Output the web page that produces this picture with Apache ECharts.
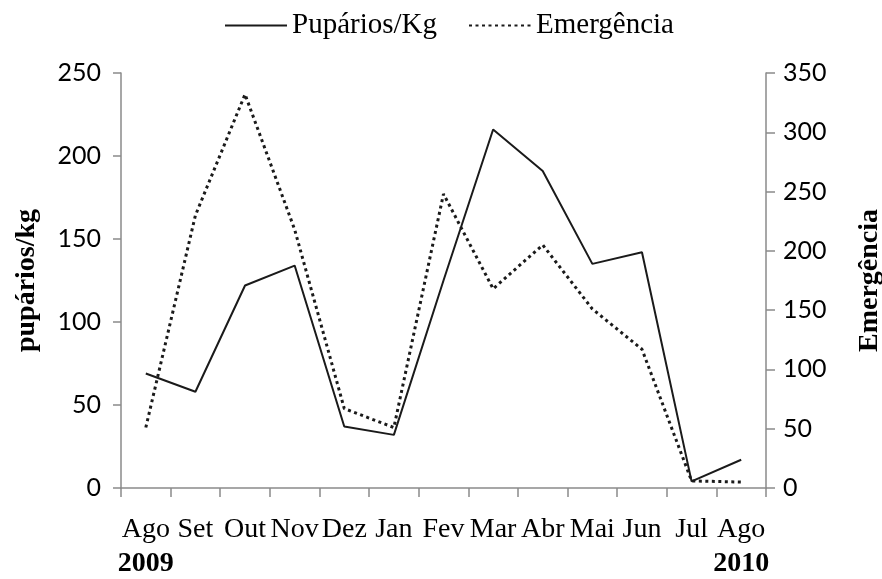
<!DOCTYPE html>
<html>
<head>
<meta charset="utf-8">
<script src="https://cdn.jsdelivr.net/npm/echarts@6/dist/echarts.min.js"></script>
<style>html,body{margin:0;padding:0;background:#fff}#c{width:882px;height:579px}</style>
</head>
<body>
<div id="c"></div>
<script>
var categories = ['Ago','Set','Out','Nov','Dez','Jan','Fev','Mar','Abr','Mai','Jun','Jul','Ago'];
var years = {0:'2009', 12:'2010'};
var puparios = [69, 58, 122, 134, 37, 32, 125, 216, 191, 135, 142, 4, 17];
var emergencia = [51, 230, 332, 218, 67, 51, 248, 168, 205, 151, 117, 6, 5];
var leftTicks = {min:0, max:250, interval:50};
var rightTicks = {min:0, max:350, interval:50};

var SERIF = '"Liberation Serif", "Times New Roman", serif';
var SANS = 'Lato, "Liberation Sans", sans-serif';
var FS = 28;
var axisGray = '#8a8a8a';

var chart = echarts.init(document.getElementById('c'), null, {renderer:'canvas'});
chart.setOption({
  animation:false,
  backgroundColor:'#fff',
  textStyle:{fontFamily:SERIF, color:'#000'},
  legend:{
    top:6, left:219, itemWidth:62, itemHeight:14, itemGap:31,
    itemStyle:{opacity:0},
    textStyle:{fontFamily:SERIF, fontSize:29, color:'#000'},
    data:['Pupários/Kg','Emergência']
  },
  grid:{left:121, right:116, top:73, bottom:91, outerBoundsMode:'none', containLabel:false},
  xAxis:{
    type:'category', data:categories, boundaryGap:true,
    axisLine:{lineStyle:{color:axisGray, width:1.5}},
    axisTick:{show:true, alignWithLabel:false, length:9, lineStyle:{color:axisGray, width:1.5}},
    axisLabel:{
      interval:0, margin:25, fontFamily:SERIF, fontSize:FS, color:'#000', lineHeight:34,
      formatter:function(v, i){ return years[i] ? v + '\n{y|' + years[i] + '}' : v; },
      rich:{y:{fontFamily:SERIF, fontSize:FS, fontWeight:'bold', color:'#000', lineHeight:34}}
    }
  },
  yAxis:[{
    type:'value', min:leftTicks.min, max:leftTicks.max, interval:leftTicks.interval, position:'left',
    name:'pupários/kg', nameLocation:'middle', nameGap:80, nameRotate:90,
    nameTextStyle:{fontFamily:SERIF, fontSize:28, fontWeight:'bold', color:'#000'},
    axisLine:{show:true, lineStyle:{color:axisGray, width:1.5}},
    axisTick:{show:true, length:8, lineStyle:{color:axisGray, width:1.5}},
    axisLabel:{margin:20, fontFamily:SANS, fontSize:25, color:'#000'},
    splitLine:{show:false}
  },{
    type:'value', min:rightTicks.min, max:rightTicks.max, interval:rightTicks.interval, position:'right',
    name:'Emergência', nameLocation:'middle', nameGap:90, nameRotate:90,
    nameTextStyle:{fontFamily:SERIF, fontSize:28, fontWeight:'bold', color:'#000'},
    axisLine:{show:true, lineStyle:{color:axisGray, width:1.5}},
    axisTick:{show:true, length:9, lineStyle:{color:axisGray, width:1.5}},
    axisLabel:{margin:17, fontFamily:SANS, fontSize:25, color:'#000'},
    splitLine:{show:false}
  }],
  series:[{
    name:'Pupários/Kg', type:'line', yAxisIndex:0, data:puparios, symbol:'none',
    lineStyle:{color:'#1a1a1a', width:2, type:'solid'}, itemStyle:{color:'#1a1a1a'}
  },{
    name:'Emergência', type:'line', yAxisIndex:1, data:emergencia, symbol:'none',
    lineStyle:{color:'#1a1a1a', width:3, type:[3,3.5]}, itemStyle:{color:'#1a1a1a'}
  }]
});
</script>
</body>
</html>
